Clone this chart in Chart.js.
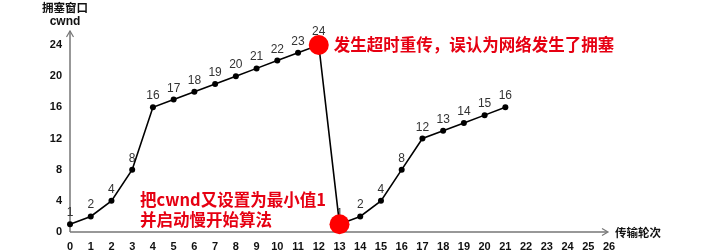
<!DOCTYPE html>
<html>
<head>
<meta charset="utf-8">
<script src="https://cdn.jsdelivr.net/npm/chart.js@4/dist/chart.umd.min.js"></script>
<style>
  html, body { margin: 0; padding: 0; background: #fff; }
  #wrap { width: 727px; height: 252px; }
</style>
</head>
<body>
<div id="wrap"><canvas id="cwnd-chart" width="727" height="252"></canvas></div>
<script>
// 传输轮次 / 拥塞窗口
const rounds = [0, 1, 2, 3, 4, 5, 6, 7, 8, 9, 10, 11, 12, 13, 14, 15, 16, 17, 18, 19, 20, 21];
const cwnd = [1, 2, 4, 8, 16, 17, 18, 19, 20, 21, 22, 23, 24, 1, 2, 4, 8, 12, 13, 14, 15, 16];
const xTicks = [0, 1, 2, 3, 4, 5, 6, 7, 8, 9, 10, 11, 12, 13, 14, 15, 16, 17, 18, 19, 20, 21, 22, 23, 24, 25, 26];
const yTicks = [0, 4, 8, 12, 16, 20, 24];
const redRounds = [12, 13]; // 超时 + 重新慢开始

const cjk = "'Noto Sans CJK SC', sans-serif";
const red = "#e60012";

const points = rounds.map((r, i) => ({ x: r, y: cwnd[i] }));

// 坐标轴箭头、标题、数值标签和说明文字
const decor = {
  id: "decor",
  beforeDatasetsDraw(chart) {
    const { ctx, chartArea: a, scales } = chart;
    const x = scales.x, y = scales.y;
    ctx.save();
    // axes
    ctx.strokeStyle = "#777";
    ctx.lineWidth = 1.5;
    ctx.beginPath();
    ctx.moveTo(a.left, a.bottom);
    ctx.lineTo(a.right - 2, a.bottom);
    ctx.moveTo(a.left, a.bottom);
    ctx.lineTo(a.left, 31);
    ctx.stroke();
    ctx.lineWidth = 1.2;
    ctx.beginPath();
    ctx.moveTo(a.right - 7, a.bottom - 3.5);
    ctx.lineTo(a.right - 1, a.bottom);
    ctx.lineTo(a.right - 7, a.bottom + 3.5);
    ctx.moveTo(a.left - 3.5, 37);
    ctx.lineTo(a.left, 31);
    ctx.lineTo(a.left + 3.5, 37);
    ctx.stroke();

    // axis titles
    ctx.fillStyle = "#111";
    ctx.textAlign = "center";
    ctx.textBaseline = "middle";
    ctx.font = "bold 11.5px " + cjk;
    ctx.fillText("拥塞窗口", 65, 8);
    ctx.font = "bold 12px 'Liberation Sans', Arial, sans-serif";
    ctx.fillText("cwnd", 65, 22);
    ctx.textAlign = "left";
    ctx.font = "bold 11.5px " + cjk;
    ctx.fillText("传输轮次", 615, a.bottom + 1);

    // value labels
    ctx.fillStyle = "#333";
    ctx.font = "12px 'Liberation Sans', Arial, sans-serif";
    ctx.textAlign = "center";
    ctx.textBaseline = "alphabetic";
    points.forEach(p => {
      const px = x.getPixelForValue(p.x);
      const py = y.getPixelForValue(p.y);
      let lift = 8;
      if (p.x === 12) lift = 10;
      if (p.x === 13) lift = 7;
      ctx.fillText(String(p.y), px, py - lift);
    });
    ctx.restore();
  },
  afterDatasetsDraw(chart) {
    const { ctx, scales } = chart;
    const x = scales.x, y = scales.y;
    ctx.save();
    ctx.fillStyle = red;
    ctx.font = "bold 16.5px " + cjk;
    ctx.textBaseline = "middle";
    ctx.textAlign = "left";
    ctx.fillText("发生超时重传，误认为网络发生了拥塞", x.getPixelForValue(12) + 15, y.getPixelForValue(24));
    ctx.fillText("把cwnd又设置为最小值1", 140, 200);
    ctx.fillText("并启动慢开始算法", 140, 220);
    ctx.restore();
  }
};

new Chart(document.getElementById("cwnd-chart").getContext("2d"), {
  type: "line",
  data: {
    datasets: [{
      data: points,
      borderColor: "#000",
      borderWidth: 1.6,
      tension: 0,
      pointRadius: rounds.map(r => (redRounds.includes(r) ? 10 : 3)),
      pointBackgroundColor: rounds.map(r => (redRounds.includes(r) ? "#ff0000" : "#000")),
      pointBorderColor: rounds.map(r => (redRounds.includes(r) ? "#ff0000" : "#000")),
      pointBorderWidth: 0,
      clip: false,
    }],
  },
  options: {
    responsive: false,
    animation: false,
    layout: { padding: { top: 45, right: 118, left: 0, bottom: 0 } },
    plugins: { legend: { display: false }, tooltip: { enabled: false } },
    scales: {
      x: {
        type: "linear",
        min: 0,
        max: 26,
        grid: { display: false, drawTicks: false },
        border: { display: false },
        afterBuildTicks: s => { s.ticks = xTicks.map(v => ({ value: v })); },
        afterFit: s => { s.height = 20; },
        ticks: { color: "#111", font: { family: "'Liberation Sans', Arial, sans-serif", size: 11, weight: "bold" }, padding: 8, maxRotation: 0, autoSkip: false },
      },
      y: {
        min: 0,
        max: 24,
        grid: { display: false, drawTicks: false },
        border: { display: false },
        afterBuildTicks: s => { s.ticks = yTicks.map(v => ({ value: v })); },
        afterFit: s => { s.width = 70; },
        ticks: { color: "#111", font: { family: "'Liberation Sans', Arial, sans-serif", size: 11, weight: "bold" }, padding: 8 },
      },
    },
  },
  plugins: [decor],
});
</script>
</body>
</html>
